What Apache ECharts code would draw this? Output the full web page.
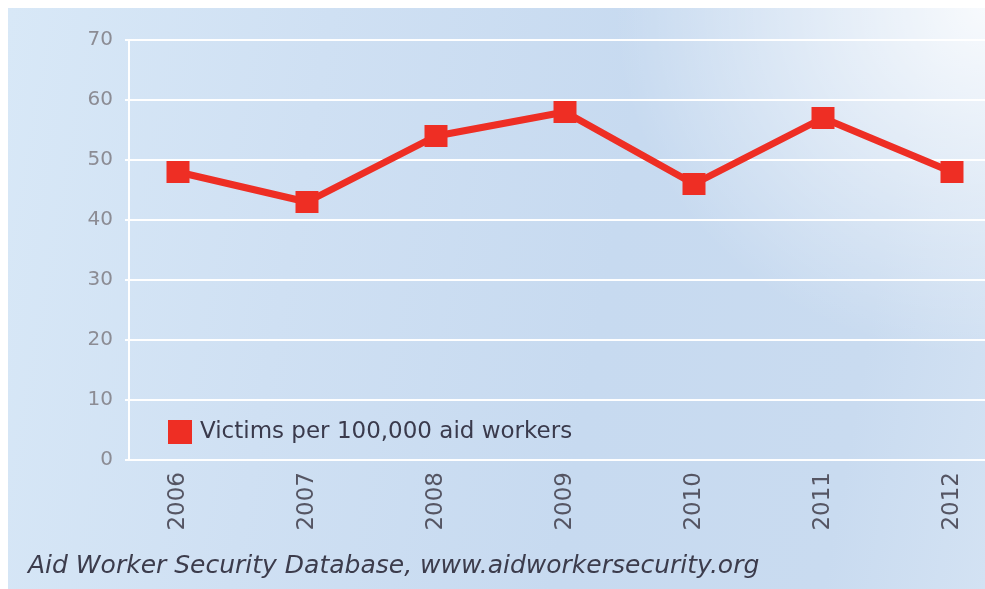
<!DOCTYPE html>
<html>
<head>
<meta charset="utf-8">
<script src="https://cdn.jsdelivr.net/npm/echarts@6/dist/echarts.min.js"></script>
<style>
  html, body { margin: 0; padding: 0; background: #ffffff; }
  #wrap { position: relative; width: 985px; height: 589px; }
  #panel {
    position: absolute; left: 8px; top: 8px; right: 0; bottom: 0;
    background:
      radial-gradient(ellipse 38% 60% at 100% 0%, rgba(255,255,255,0.85), rgba(255,255,255,0) 100%),
      linear-gradient(100deg, #d8e8f7 0%, #cfe0f3 30%, #c7daf0 60%, #c9dbf0 85%, #d3e2f3 100%);
  }
  #chart { position: absolute; left: 0; top: 0; width: 985px; height: 589px; }
</style>
</head>
<body>
<div id="wrap">
  <div id="panel"></div>
  <div id="chart"></div>
</div>
<script>
// Aid worker victims per 100,000 aid workers, 2006-2012
const years = ['2006', '2007', '2008', '2009', '2010', '2011', '2012'];
const victimsPer100k = [48, 43, 54, 58, 46, 57, 48];
const yTicks = { min: 0, max: 70, step: 10 };
const seriesName = 'Victims per 100,000 aid workers';
const sourceNote = 'Aid Worker Security Database, www.aidworkersecurity.org';

const RED = '#ee2e24';
const FONT = 'DejaVu Sans';
const chart = echarts.init(document.getElementById('chart'), null, { renderer: 'canvas' });

chart.setOption({
  backgroundColor: 'transparent',
  animation: false,
  grid: [
    // gridline frame spanning to the right edge
    { left: 129, right: 0, top: 40, bottom: 129 },
    // data area, categories sit on the edges
    { left: 178, right: 33, top: 40, bottom: 129 }
  ],
  legend: {
    data: [seriesName],
    left: 168, top: 420,
    padding: 0,
    icon: 'rect',
    itemWidth: 24, itemHeight: 24,
    textStyle: { fontFamily: FONT, fontSize: 23, color: '#3a3a4c', padding: [3, 0, 0, 3] }
  },
  xAxis: [
    { gridIndex: 0, type: 'value', show: false, min: 0, max: 1 },
    {
      gridIndex: 1, type: 'category', data: years, boundaryGap: false,
      axisLine: { show: false }, axisTick: { show: false },
      axisLabel: { rotate: 90, margin: 12, fontFamily: FONT, fontSize: 23, color: '#555563' }
    }
  ],
  yAxis: [
    {
      gridIndex: 0, type: 'value', min: yTicks.min, max: yTicks.max, interval: yTicks.step,
      axisLine: { show: true, lineStyle: { color: '#ffffff', width: 2 } },
      axisTick: { show: true, length: 4, lineStyle: { color: '#ffffff', width: 2 } },
      splitLine: { show: true, lineStyle: { color: '#ffffff', width: 2 } },
      axisLabel: { margin: 16, fontFamily: FONT, fontSize: 20, color: '#8c8c94' }
    },
    {
      gridIndex: 1, type: 'value', min: yTicks.min, max: yTicks.max, interval: yTicks.step,
      show: false, splitLine: { show: false }
    }
  ],
  series: [{
    name: seriesName,
    type: 'line',
    xAxisIndex: 1, yAxisIndex: 1,
    data: victimsPer100k,
    symbol: 'rect', symbolSize: [23, 22],
    lineStyle: { color: RED, width: 7 },
    itemStyle: { color: RED },
    z: 5
  }],
  graphic: [{
    type: 'text',
    left: 28, top: 554,
    style: {
      text: sourceNote,
      font: 'italic 25px "DejaVu Sans"',
      fill: '#3c3c4c'
    }
  }]
});
</script>
</body>
</html>
